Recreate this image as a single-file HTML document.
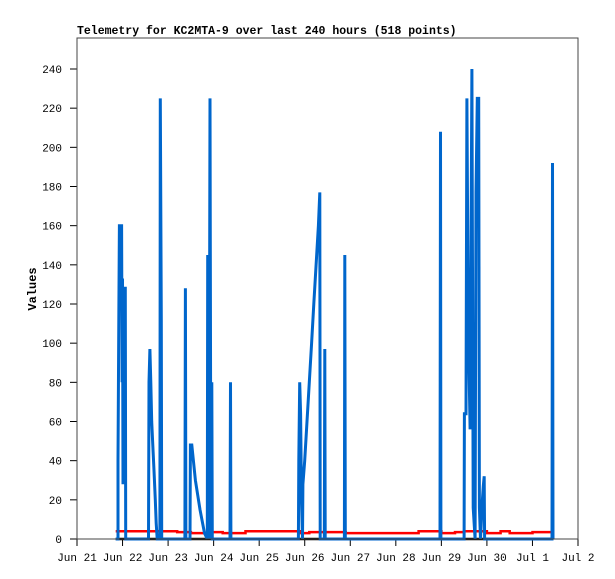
<!DOCTYPE html>
<html><head><meta charset="utf-8"><style>
html,body{margin:0;padding:0;background:#fff;}
svg{display:block;font-family:"Liberation Mono",monospace;}
</style></head><body>
<svg id="chart" width="615" height="579" xmlns="http://www.w3.org/2000/svg">
<rect x="0" y="0" width="615" height="579" fill="#fff"/>
<text x="77" y="34" font-size="11.5" font-weight="bold" fill="#000">Telemetry for KC2MTA-9 over last 240 hours (518 points)</text>
<text transform="translate(36,289) rotate(-90)" text-anchor="middle" font-size="12" font-weight="bold" fill="#000">Values</text>
<g id="grid"></g>
<g id="series"></g>
<rect x="77" y="38" width="501" height="501" fill="none" stroke="#444" stroke-width="1"/>
</svg>
<script>
// data
const xTickLabels = ["Jun 21","Jun 22","Jun 23","Jun 24","Jun 25","Jun 26","Jun 27","Jun 28","Jun 29","Jun 30","Jul 1","Jul 2"];
const yTickValues = [0,20,40,60,80,100,120,140,160,180,200,220,240];
const blueDays = [0.85,0.90,0.90,0.92,0.93,0.98,0.99,1.0,1.01,1.02,1.06,1.07,
 1.57,1.58,1.60,1.62,1.64,1.66,1.69,1.72,1.74,1.76,
 1.82,1.83,1.85,1.86,
 2.37,2.38,2.39,
 2.48,2.49,2.52,2.60,2.70,2.80,2.86,
 2.87,2.90,2.92,2.94,2.96,2.97,
 3.36,3.37,3.38,
 4.86,4.87,4.89,4.91,4.93,4.95,4.96,5.0,5.05,5.1,5.15,5.2,5.25,5.30,5.33,5.34,5.43,5.44,5.45,5.87,5.88,5.89,
 7.97,7.98,7.99,
 8.50,8.505,8.54,8.56,8.59,8.63,8.67,8.70,8.74,8.76,8.79,8.82,8.835,8.86,8.90,8.92,8.94,8.95,
 10.43,10.44,10.45];
const blueValues = [0,0,40,120,160,160,80,133,28,128,128,0,
 0,80,97,80,60,50,35,20,8,0,
 0,225,112,0,
 0,128,0,
 0,48,48,30,15,3,0,
 145,0,225,0,80,0,
 0,80,0,
 0,40,80,64,20,0,28,40,60,80,100,120,140,160,177,0,0,97,0,0,145,0,
 0,208,0,
 0,64,64,225,112,56,240,16,0,177,225,225,16,0,20,27,32,0,
 0,192,0];
const redDays = [0.85,1.0,2.2,2.5,2.9,3.2,3.7,4.9,5.1,5.4,5.9,7.5,8.0,8.3,8.5,9.0,9.3,9.5,10.0,10.44];
const redValues = [4,4,3.5,3,3.5,3,4,3,3.5,3.5,3,4,3,3.5,4,3,4,3,3.5,3];
const blackDays = [0.85,10.44];
const blackValues = [0,0];

const X0=77, X1=578, Y0=539, PXDAY=(X1-X0)/11, PXUNIT=(539-69)/240;
const xs = d => X0 + d*PXDAY;
const ys = v => Y0 - v*PXUNIT;
const NS="http://www.w3.org/2000/svg";
const grid=document.getElementById('grid'), series=document.getElementById('series');
function mk(tag, attrs, parent){const e=document.createElementNS(NS,tag);for(const k in attrs)e.setAttribute(k,attrs[k]);parent.appendChild(e);return e;}

xTickLabels.forEach((lab,i)=>{
  const x=xs(i);
  const t=mk('line',{x1:x,y1:Y0,x2:x,y2:Y0+7,stroke:'#000','stroke-width':1},grid);
  
  
  const tx=mk('text',{x:x,y:561,'text-anchor':'middle','font-size':11,fill:'#000'},grid);
  tx.textContent=lab;
  
  
});
yTickValues.forEach(v=>{
  const y=ys(v);
  const t=mk('line',{x1:X0-7,y1:y,x2:X0,y2:y,stroke:'#000','stroke-width':1},grid);
  
  
  const tx=mk('text',{x:62,y:y+4,'text-anchor':'end','font-size':11,fill:'#000'},grid);
  tx.textContent=String(v);
  
  
});
function poly(days, vals, color, w, name, step){
  const arr=[];
  days.forEach((d,i)=>{
    if(step && i>0) arr.push(xs(d).toFixed(1)+','+ys(vals[i-1]).toFixed(1));
    arr.push(xs(d).toFixed(1)+','+ys(vals[i]).toFixed(1));
  });
  const p=mk('polyline',{points:arr.join(' '),fill:'none',stroke:color,'stroke-width':w,'stroke-linejoin':'miter'},series);
  
  
}
poly(blackDays,blackValues,'#000',2.5,'series-zero-line',false);
poly(redDays,redValues,'#ff0000',2.5,'series-red-line',true);
poly(blueDays,blueValues,'#0066cc',3,'series-blue-line',false);
</script>
</body></html>
